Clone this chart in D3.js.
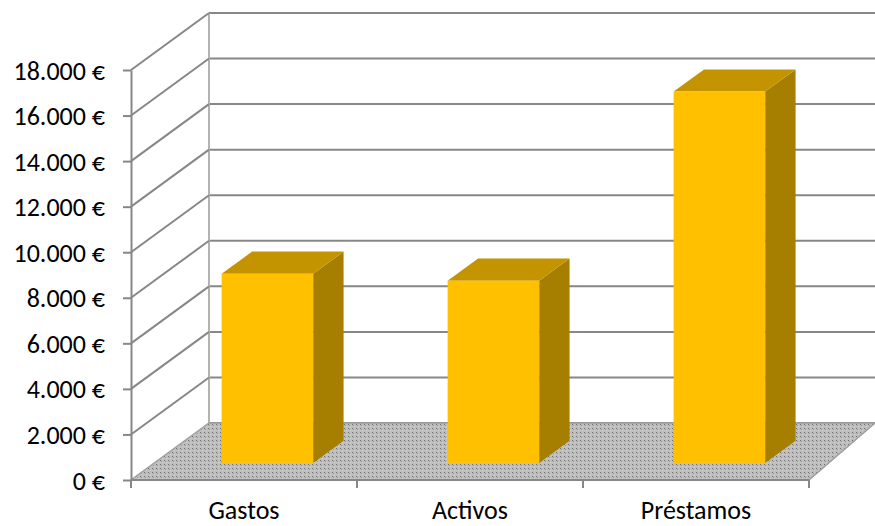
<!DOCTYPE html>
<html>
<head>
<meta charset="utf-8">
<script src="https://cdn.jsdelivr.net/npm/d3@7"></script>
<style>
  html, body { margin: 0; padding: 0; background: #fff; }
  svg { display: block; }
  text { font-family: Carlito, Calibri, Lato, "Open Sans", sans-serif; fill: #000; }
</style>
</head>
<body>
<svg id="chart" width="875" height="526"></svg>
<script>
// Data
const categories = ["Gastos", "Activos", "Préstamos"];
const values = [8300, 8000, 16300];
const yTicks = [0, 2000, 4000, 6000, 8000, 10000, 12000, 14000, 16000, 18000];

// Layout
const W = 875, H = 526;
const plot = { left: 131, right: 809, top: 70, bottom: 480 };
const depth = { dx: 78, dy: -57 };          // offset from front plane to back wall
const barFront = 0.3, barBack = 0.69;       // bar position along the depth axis
const fontSize = 26;

const svg = d3.select("#chart");

const y = d3.scaleLinear().domain([0, 18000]).range([plot.bottom, plot.top]);
const x = d3.scaleBand().domain(categories).range([plot.left, plot.right])
  .paddingInner(0.595).paddingOuter(0.2975);
const xEdge = d3.scaleLinear().domain([0, categories.length]).range([plot.left, plot.right]);

const locale = d3.formatLocale({ decimal: ",", thousands: ".", grouping: [3], currency: ["", " €"] });
const fmt = locale.format("$,.0f");

const gridColor = "#878787";

// Floor texture
const defs = svg.append("defs");
const pat = defs.append("pattern").attr("id", "floorDots")
  .attr("patternUnits", "userSpaceOnUse").attr("width", 4).attr("height", 4);
pat.append("rect").attr("width", 4).attr("height", 4).attr("fill", "#bfbfbf");
pat.append("rect").attr("x", 0).attr("y", 0).attr("width", 1).attr("height", 1).attr("fill", "#6e6e6e");
pat.append("rect").attr("x", 1).attr("y", 1).attr("width", 1).attr("height", 1).attr("fill", "#989898");
pat.append("rect").attr("x", 2).attr("y", 2).attr("width", 1).attr("height", 1).attr("fill", "#d2d2d2");

const backX0 = plot.left + depth.dx;

// Back wall gridlines
svg.append("g").selectAll("line").data(yTicks).join("line")
  .attr("x1", backX0).attr("x2", W)
  .attr("y1", d => y(d) + depth.dy).attr("y2", d => y(d) + depth.dy)
  .attr("stroke", gridColor).attr("stroke-width", 2);

// Back wall left edge
svg.append("line")
  .attr("x1", backX0).attr("x2", backX0)
  .attr("y1", y(18000) + depth.dy).attr("y2", y(0) + depth.dy)
  .attr("stroke", "#b3b3b3").attr("stroke-width", 2);

// Side wall gridlines (diagonals)
svg.append("g").selectAll("line").data(yTicks.filter(d => d > 0)).join("line")
  .attr("x1", plot.left).attr("y1", d => y(d))
  .attr("x2", backX0).attr("y2", d => y(d) + depth.dy)
  .attr("stroke", gridColor).attr("stroke-width", 2);

// Floor
const floorPts = [
  [plot.left, y(0)],
  [plot.right, y(0)],
  [W, y(0) + depth.dy],
  [backX0, y(0) + depth.dy]
];
svg.append("path")
  .attr("d", "M" + floorPts.map(p => p.join(",")).join("L") + "Z")
  .attr("fill", "url(#floorDots)")
  .attr("stroke", "#a0a0a0").attr("stroke-width", 1.5);

// Bars
const f0 = { dx: depth.dx * barFront, dy: depth.dy * barFront };
const bd = { dx: depth.dx * (barBack - barFront), dy: depth.dy * (barBack - barFront) };
const bars = svg.append("g").selectAll("g").data(categories.map((c, i) => ({ c, v: values[i] }))).join("g");

bars.each(function(d) {
  const g = d3.select(this);
  const x0 = x(d.c) + f0.dx, x1 = x0 + x.bandwidth();
  const yb = y(0) + f0.dy, yt = y(d.v) + f0.dy;
  const poly = pts => "M" + pts.map(p => p.join(",")).join("L") + "Z";
  // side face
  g.append("path").attr("d", poly([[x1, yt], [x1 + bd.dx, yt + bd.dy], [x1 + bd.dx, yb + bd.dy], [x1, yb]]))
    .attr("fill", "#a67e00");
  // top face
  g.append("path").attr("d", poly([[x0, yt], [x0 + bd.dx, yt + bd.dy], [x1 + bd.dx, yt + bd.dy], [x1, yt]]))
    .attr("fill", "#c49300");
  // front face
  g.append("rect").attr("x", x0).attr("y", yt).attr("width", x1 - x0).attr("height", yb - yt)
    .attr("fill", "#ffc000");
});

// Value axis
const yAxis = d3.axisLeft(y).tickValues(yTicks).tickFormat(fmt)
  .tickSize(8).tickSizeOuter(0).tickPadding(18);
const ya = svg.append("g").attr("transform", `translate(${plot.left},0)`).call(yAxis);
ya.select(".domain").attr("stroke", gridColor).attr("stroke-width", 2);
ya.selectAll(".tick line").attr("stroke", gridColor).attr("stroke-width", 2);
ya.selectAll(".tick text").attr("font-size", fontSize).attr("dy", "0.35em")
  .style("font-family", "Carlito, Calibri, Lato, 'Open Sans', sans-serif");

// Category axis
svg.append("line").attr("x1", plot.left).attr("x2", plot.right)
  .attr("y1", y(0)).attr("y2", y(0)).attr("stroke", gridColor).attr("stroke-width", 2);
svg.append("g").selectAll("line").data(d3.range(categories.length + 1)).join("line")
  .attr("x1", d => xEdge(d)).attr("x2", d => xEdge(d))
  .attr("y1", y(0)).attr("y2", y(0) + 8)
  .attr("stroke", gridColor).attr("stroke-width", 2);
svg.append("g").selectAll("text").data(categories).join("text")
  .attr("x", d => x(d) + x.bandwidth() / 2).attr("y", 519)
  .attr("text-anchor", "middle").attr("font-size", fontSize)
  .text(d => d);
</script>
</body>
</html>
